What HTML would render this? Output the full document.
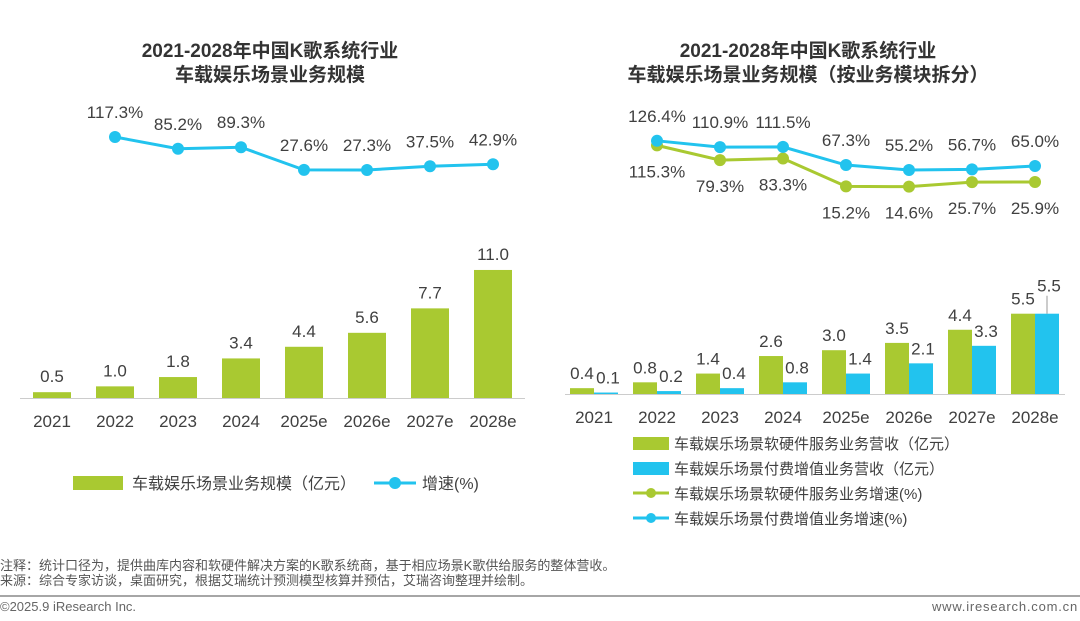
<!DOCTYPE html>
<html><head><meta charset="utf-8"><style>
body{margin:0;background:#fff;}
svg text{font-family:"Liberation Sans","Noto Sans CJK SC",sans-serif;}
</style></head><body>
<svg width="1080" height="616" viewBox="0 0 1080 616">
<text x="270" y="57" text-anchor="middle" font-size="19" font-weight="bold" fill="#333">2021-2028年中国K歌系统行业</text>
<text x="270" y="81" text-anchor="middle" font-size="19" font-weight="bold" fill="#333">车载娱乐场景业务规模</text>
<text x="808" y="57" text-anchor="middle" font-size="19" font-weight="bold" fill="#333">2021-2028年中国K歌系统行业</text>
<text x="808" y="81" text-anchor="middle" font-size="19" font-weight="bold" fill="#333">车载娱乐场景业务规模（按业务模块拆分）</text>
<g id="left"></g>
<g id="right"></g>
<g>
<rect x="73" y="476" width="50" height="14" fill="#a9c931"/>
<text x="132" y="489" font-size="16" fill="#404040">车载娱乐场景业务规模（亿元）</text>
<line x1="374" y1="483" x2="416" y2="483" stroke="#22c3ee" stroke-width="3"/>
<circle cx="395" cy="483" r="6" fill="#22c3ee"/>
<text x="422" y="489" font-size="16" fill="#404040">增速(%)</text>
</g>
<g>
<rect x="633" y="437" width="36" height="13" fill="#a9c931"/>
<text x="674" y="449" font-size="15" fill="#404040">车载娱乐场景软硬件服务业务营收（亿元）</text>
<rect x="633" y="462" width="36" height="13" fill="#22c3ee"/>
<text x="674" y="474" font-size="15" fill="#404040">车载娱乐场景付费增值业务营收（亿元）</text>
<line x1="633" y1="493" x2="669" y2="493" stroke="#a9c931" stroke-width="3"/>
<circle cx="651" cy="493" r="5" fill="#a9c931"/>
<text x="674" y="499" font-size="15" fill="#404040">车载娱乐场景软硬件服务业务增速(%)</text>
<line x1="633" y1="518" x2="669" y2="518" stroke="#22c3ee" stroke-width="3"/>
<circle cx="651" cy="518" r="5" fill="#22c3ee"/>
<text x="674" y="524" font-size="15" fill="#404040">车载娱乐场景付费增值业务增速(%)</text>
</g>
<text x="0" y="570" font-size="13" fill="#555">注释：统计口径为，提供曲库内容和软硬件解决方案的K歌系统商，基于相应场景K歌供给服务的整体营收。</text>
<text x="0" y="585" font-size="13" fill="#555">来源：综合专家访谈，桌面研究，根据艾瑞统计预测模型核算并预估，艾瑞咨询整理并绘制。</text>
<line x1="0" y1="596" x2="1080" y2="596" stroke="#888" stroke-width="1.5"/>
<text x="0" y="611" font-size="13" fill="#666">©2025.9 iResearch Inc.</text>
<text x="1078" y="611" text-anchor="end" font-size="13" letter-spacing="0.8" fill="#666">www.iresearch.com.cn</text>
</svg>
<script>
const categories=["2021","2022","2023","2024","2025e","2026e","2027e","2028e"];
const leftScale=[0.5,1.0,1.8,3.4,4.4,5.6,7.7,11.0];
const leftGrowth=[null,117.3,85.2,89.3,27.6,27.3,37.5,42.9];
const hwRevenue=[0.4,0.8,1.4,2.6,3.0,3.5,4.4,5.5];
const paidRevenue=[0.1,0.2,0.4,0.8,1.4,2.1,3.3,5.5];
const hwGrowth=[null,115.3,79.3,83.3,15.2,14.6,25.7,25.9];
const paidGrowth=[null,126.4,110.9,111.5,67.3,55.2,56.7,65.0];
const NS="http://www.w3.org/2000/svg";
const G="#a9c931",B="#22c3ee",T="#404040";
function mk(p,t,a){const e=document.createElementNS(NS,t);for(const k in a)e.setAttribute(k,a[k]);p.appendChild(e);return e;}
function fmt(v){return v.toFixed(1);}
// left
const L=document.getElementById('left');
const lx=i=>52+i*63, ly=v=>398-v*11.64, lg=v=>170-(v-27.3)*0.367;
let ax=mk(L,'line',{x1:20,y1:398.5,x2:525,y2:398.5,stroke:'#ccc','stroke-width':1});


categories.forEach((c,i)=>{
 const r=mk(L,'rect',{x:lx(i)-19,y:ly(leftScale[i]),width:38,height:398-ly(leftScale[i]),fill:G});
 
 
 const t=mk(L,'text',{x:lx(i),y:ly(leftScale[i])-10,'text-anchor':'middle','font-size':17,fill:T});t.textContent=fmt(leftScale[i]);
 
 
 const tk=mk(L,'text',{x:lx(i),y:427,'text-anchor':'middle','font-size':17,fill:T});tk.textContent=c;
 
 
});
let pts=[];leftGrowth.forEach((v,i)=>{if(v!=null)pts.push([lx(i),lg(v),v]);});
const pl=mk(L,'polyline',{points:pts.map(p=>p[0]+','+p[1]).join(' '),fill:'none',stroke:B,'stroke-width':3});


pts.forEach(p=>{const c=mk(L,'circle',{cx:p[0],cy:p[1],r:6,fill:B});
 
 
 const t=mk(L,'text',{x:p[0],y:p[1]-19,'text-anchor':'middle','font-size':17,fill:T});t.textContent=fmt(p[2])+'%';
 
 });
// right
const R=document.getElementById('right');
const rx=i=>594+i*63, ry=v=>394-v*14.6, rg=v=>170-(v-55.2)*0.41;
ax=mk(R,'line',{x1:565,y1:394.5,x2:1065,y2:394.5,stroke:'#ccc','stroke-width':1});


categories.forEach((c,i)=>{
 const r1=mk(R,'rect',{x:rx(i)-24,y:ry(hwRevenue[i]),width:24,height:394-ry(hwRevenue[i]),fill:G});
 
 
 const r2=mk(R,'rect',{x:rx(i),y:ry(paidRevenue[i]),width:24,height:394-ry(paidRevenue[i]),fill:B});
 
 
 const t1=mk(R,'text',{x:rx(i)-12,y:ry(hwRevenue[i])-9,'text-anchor':'middle','font-size':17,fill:T});t1.textContent=fmt(hwRevenue[i]);
 
 
 const last=i===categories.length-1;
 const t2=mk(R,'text',{x:rx(i)+14,y:ry(paidRevenue[i])-(last?22:9),'text-anchor':'middle','font-size':17,fill:T});t2.textContent=fmt(paidRevenue[i]);
 
 
 if(last){const ln=mk(R,'line',{x1:rx(i)+12,y1:ry(paidRevenue[i])-18,x2:rx(i)+12,y2:ry(paidRevenue[i]),stroke:'#999'});
 
 }
 const tk=mk(R,'text',{x:rx(i),y:423,'text-anchor':'middle','font-size':17,fill:T});tk.textContent=c;
 
 
});
function series(arr,col,name,above){
 let p=[];arr.forEach((v,i)=>{if(v!=null)p.push([rx(i),rg(v),v]);});
 const l=mk(R,'polyline',{points:p.map(q=>q[0]+','+q[1]).join(' '),fill:'none',stroke:col,'stroke-width':3});
 
 
 p.forEach(q=>{const c=mk(R,'circle',{cx:q[0],cy:q[1],r:6,fill:col});
  
  
  const t=mk(R,'text',{x:q[0],y:above?q[1]-19:q[1]+32,'text-anchor':'middle','font-size':17,fill:T});t.textContent=fmt(q[2])+'%';
  
  });
}
series(hwGrowth,G,'hw-growth',false);
series(paidGrowth,B,'paid-growth',true);
</script>
</body></html>
